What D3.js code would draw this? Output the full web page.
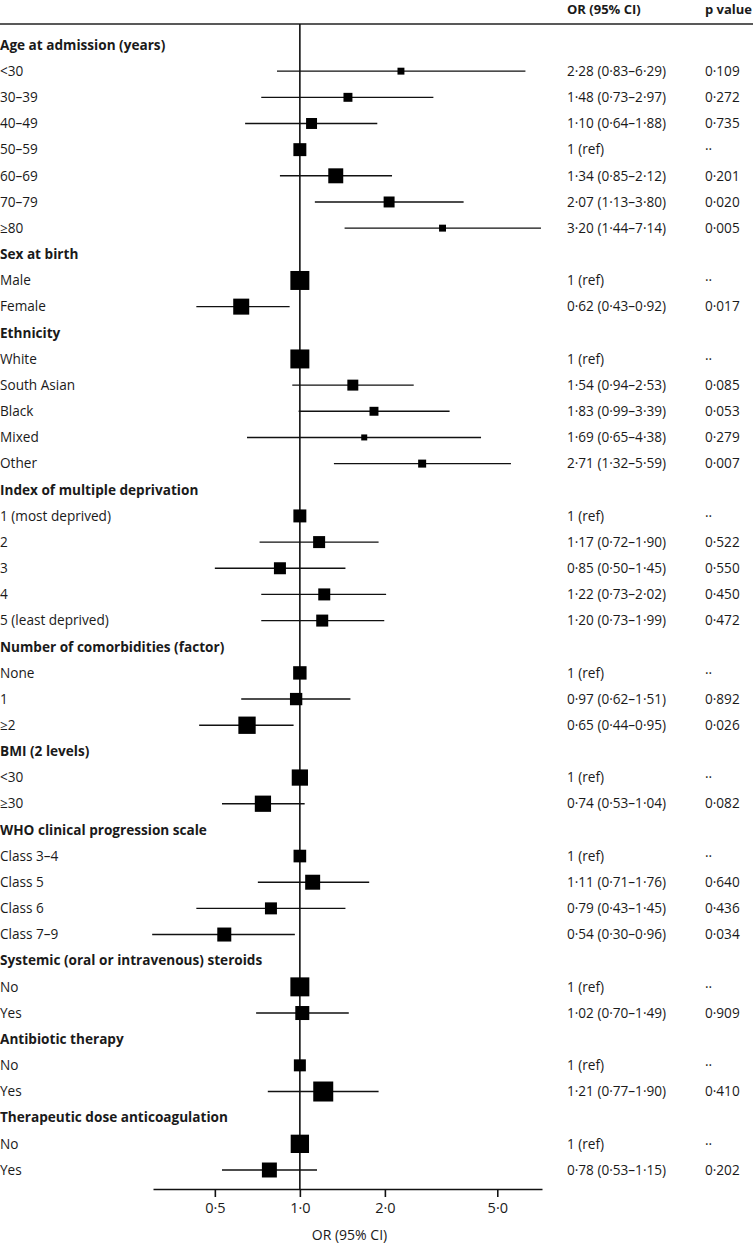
<!DOCTYPE html>
<html>
<head>
<meta charset="utf-8">
<script src="https://cdn.jsdelivr.net/npm/d3@7"></script>
<style>
  html, body { margin: 0; padding: 0; background: #fff; }
  svg { display: block; }
  text { font-family: "Open Sans", "Noto Sans", sans-serif; fill: #1a1a1a; }
</style>
</head>
<body>
<svg id="chart" width="754" height="1243"></svg>
<script>
// ---- data ----
const rowLabels = [
  "Age at admission (years)", "<30", "30–39", "40–49", "50–59", "60–69", "70–79", "≥80",
  "Sex at birth", "Male", "Female",
  "Ethnicity", "White", "South Asian", "Black", "Mixed", "Other",
  "Index of multiple deprivation", "1 (most deprived)", "2", "3", "4", "5 (least deprived)",
  "Number of comorbidities (factor)", "None", "1", "≥2",
  "BMI (2 levels)", "<30", "≥30",
  "WHO clinical progression scale", "Class 3–4", "Class 5", "Class 6", "Class 7–9",
  "Systemic (oral or intravenous) steroids", "No", "Yes",
  "Antibiotic therapy", "No", "Yes",
  "Therapeutic dose anticoagulation", "No", "Yes"
];
const headerRows = [0, 8, 11, 17, 23, 27, 30, 35, 38, 41];
// null = header row; reference categories have OR 1 and no CI
const orValues = [
  null, 2.28, 1.48, 1.10, 1, 1.34, 2.07, 3.20,
  null, 1, 0.62,
  null, 1, 1.54, 1.83, 1.69, 2.71,
  null, 1, 1.17, 0.85, 1.22, 1.20,
  null, 1, 0.97, 0.65,
  null, 1, 0.74,
  null, 1, 1.11, 0.79, 0.54,
  null, 1, 1.02,
  null, 1, 1.21,
  null, 1, 0.78
];
const ciLower = [
  null, 0.83, 0.73, 0.64, null, 0.85, 1.13, 1.44,
  null, null, 0.43,
  null, null, 0.94, 0.99, 0.65, 1.32,
  null, null, 0.72, 0.50, 0.73, 0.73,
  null, null, 0.62, 0.44,
  null, null, 0.53,
  null, null, 0.71, 0.43, 0.30,
  null, null, 0.70,
  null, null, 0.77,
  null, null, 0.53
];
const ciUpper = [
  null, 6.29, 2.97, 1.88, null, 2.12, 3.80, 7.14,
  null, null, 0.92,
  null, null, 2.53, 3.39, 4.38, 5.59,
  null, null, 1.90, 1.45, 2.02, 1.99,
  null, null, 1.51, 0.95,
  null, null, 1.04,
  null, null, 1.76, 1.45, 0.96,
  null, null, 1.49,
  null, null, 1.90,
  null, null, 1.15
];
const pValues = [
  null, 0.109, 0.272, 0.735, null, 0.201, 0.020, 0.005,
  null, null, 0.017,
  null, null, 0.085, 0.053, 0.279, 0.007,
  null, null, 0.522, 0.550, 0.450, 0.472,
  null, null, 0.892, 0.026,
  null, null, 0.082,
  null, null, 0.640, 0.436, 0.034,
  null, null, 0.909,
  null, null, 0.410,
  null, null, 0.202
];
// relative weight of each estimate (drives marker size)
const weights = [
  null, 12, 20, 30, 42, 56, 30, 12,
  null, 90, 64,
  null, 90, 30, 20, 9, 16,
  null, 42, 36, 36, 36, 36,
  null, 45, 38, 75,
  null, 66, 66,
  null, 40, 56, 36, 49,
  null, 90, 49,
  null, 36, 100,
  null, 84, 56
];
const xTicks = [0.5, 1.0, 2.0, 5.0];
const xDomain = [0.302, 7.2];

// ---- layout ----
const svg = d3.select("#chart");
const plotLeft = 153, plotRight = 542;
const topRule = 24, axisY = 1189;
const colOR = 567, colP = 705;
const fs = 13.6;

const x = d3.scaleLog().domain(xDomain).range([plotLeft, plotRight]);
const y = d3.scaleLinear().domain([0, rowLabels.length - 1]).range([45, 1170]);
const size = d3.scaleSqrt().domain([0, 100]).range([0, 20]);
const fmt = v => v.toFixed(2).replace(".", "·");
const fmtP = v => v.toFixed(3).replace(".", "·");

const rows = rowLabels.map((label, i) => ({
  i, label, header: headerRows.includes(i),
  or: orValues[i], lo: ciLower[i], hi: ciUpper[i], p: pValues[i], w: weights[i]
}));

// column headers
svg.append("text").attr("x", colOR).attr("y", 14).attr("font-size", 13)
  .attr("font-weight", 700).text("OR (95% CI)");
svg.append("text").attr("x", colP).attr("y", 14).attr("font-size", 13)
  .attr("font-weight", 700).text("p value");
svg.append("line").attr("x1", 0).attr("x2", 753).attr("y1", topRule).attr("y2", topRule)
  .attr("stroke", "#222").attr("stroke-width", 1.5);

// labels
svg.append("g").selectAll("text").data(rows).join("text")
  .attr("x", 0).attr("y", d => y(d.i)).attr("dy", "0.35em")
  .attr("font-size", fs)
  .attr("font-weight", d => d.header ? 700 : 400)
  .text(d => d.label);

const items = rows.filter(d => !d.header);

// OR text and p values
svg.append("g").selectAll("text").data(items).join("text")
  .attr("x", colOR).attr("y", d => y(d.i)).attr("dy", "0.35em").attr("font-size", fs)
  .text(d => d.lo == null ? "1 (ref)" : `${fmt(d.or)} (${fmt(d.lo)}–${fmt(d.hi)})`);
svg.append("g").selectAll("text").data(items).join("text")
  .attr("x", colP).attr("y", d => y(d.i)).attr("dy", "0.35em").attr("font-size", fs)
  .text(d => d.p == null ? "··" : fmtP(d.p));

// reference line at OR = 1
svg.append("line").attr("x1", x(1)).attr("x2", x(1)).attr("y1", topRule).attr("y2", axisY)
  .attr("stroke", "#111").attr("stroke-width", 1.6);

// CI lines
svg.append("g").selectAll("line").data(items.filter(d => d.lo != null)).join("line")
  .attr("x1", d => x(d.lo)).attr("x2", d => x(d.hi))
  .attr("y1", d => y(d.i)).attr("y2", d => y(d.i))
  .attr("stroke", "#111").attr("stroke-width", 1.4);

// squares
svg.append("g").selectAll("rect").data(items).join("rect")
  .attr("x", d => x(d.or) - size(d.w) / 2)
  .attr("y", d => y(d.i) - size(d.w) / 2)
  .attr("width", d => size(d.w)).attr("height", d => size(d.w))
  .attr("fill", "#000");

// x axis
const axis = svg.append("g").attr("transform", `translate(0,${axisY})`)
  .call(d3.axisBottom(x).tickValues(xTicks).tickSize(8).tickPadding(6)
    .tickFormat(d => d.toFixed(1).replace(".", "·")).tickSizeOuter(0));
axis.select(".domain").attr("stroke", "#111").attr("stroke-width", 1.6);
axis.selectAll(".tick line").attr("stroke", "#111").attr("stroke-width", 1.6);
axis.selectAll(".tick text").attr("font-size", 14.5)
  .attr("font-family", '"Open Sans", "Noto Sans", sans-serif').attr("fill", "#1a1a1a");

svg.append("text").attr("x", (plotLeft + plotRight) / 2 + 2).attr("y", 1235).attr("dy", "0.35em")
  .attr("text-anchor", "middle").attr("font-size", 14).text("OR (95% CI)");
</script>
</body>
</html>
